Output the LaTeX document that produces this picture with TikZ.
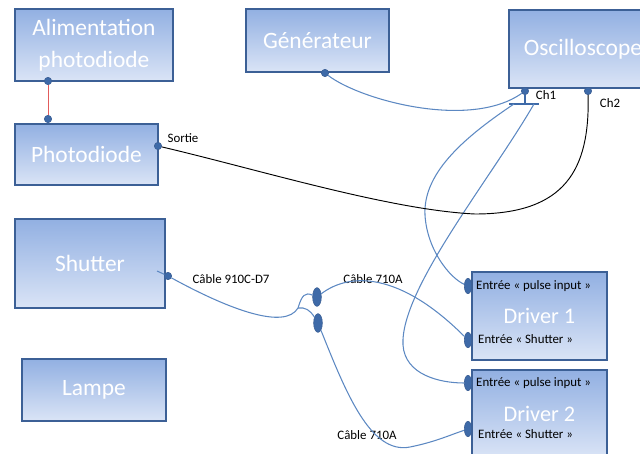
\documentclass[tikz,border=0pt]{standalone}
\usepackage{fontspec}
\setmainfont{Carlito}
\usetikzlibrary{positioning,shapes.geometric}
\definecolor{boxtop}{RGB}{146,176,226}
\definecolor{boxbot}{RGB}{218,228,246}
\definecolor{boxline}{RGB}{60,96,150}
\definecolor{portblue}{RGB}{62,106,168}
\definecolor{cableblue}{RGB}{92,136,194}
\definecolor{feedred}{RGB}{226,92,92}

\begin{document}
\begin{tikzpicture}[x=0.03cm,y=-0.03cm,
  box/.style={draw=boxline,line width=1.6pt,top color=boxtop,bottom color=boxbot,text=white,align=center,anchor=north west,inner sep=0pt,font=\fontsize{20}{27}\selectfont},
  port/.style={circle,draw=boxline,fill=portblue,line width=0.5pt,inner sep=0pt,minimum size=0.22cm},
  plug/.style={ellipse,draw=boxline,fill=portblue,line width=0.5pt,inner sep=0pt,minimum width=0.22cm,minimum height=0.46cm},
  lbl/.style={font=\fontsize{11}{13}\selectfont,inner sep=0pt},
  cable/.style={draw=cableblue,line width=0.9pt},
  sig/.style={draw=black,line width=0.8pt}
]
\useasboundingbox (0,0) rectangle (640,454);
\clip (0,0) rectangle (640,454);
% left column
\node[box,minimum width=4.74cm,minimum height=2.16cm] (alim) at (14,8) {Alimentation\\photodiode};
\node[box,minimum width=4.29cm,minimum height=1.83cm] (photo) at (14,123) {Photodiode};
\node[box,minimum width=4.5cm,minimum height=2.67cm] (shutter) at (14,218) {Shutter};
\node[box,minimum width=4.32cm,minimum height=1.86cm] (lampe) at (21,358) {Lampe};
% top row
\node[box,minimum width=4.29cm,minimum height=1.89cm] (gen) at (245,8) {Générateur};
\node[box,minimum width=4.44cm,minimum height=2.34cm] (osc) at (508,9) {Oscilloscope};
% drivers
\node[box,minimum width=4.05cm,minimum height=2.64cm,font=\fontsize{19}{22}\selectfont] (d1) at (471,271) {Driver 1};
\node[box,below=0.24cm of d1.south west,anchor=north west,minimum width=4.05cm,minimum height=2.64cm,font=\fontsize{19}{22}\selectfont] (d2) {Driver 2};
\node[lbl,anchor=west] (d1intxt) at (476,286) {Entrée « pulse input »};
\node[lbl,anchor=west] (d1shtxt) at (478,339) {Entrée « Shutter »};
\node[lbl,anchor=west] (d2intxt) at (476,383) {Entrée « pulse input »};
\node[lbl,anchor=west] (d2shtxt) at (478,434) {Entrée « Shutter »};
% ports
\node[port] (alimp) at (48,81) {};
\node[port] (photop) at (48,119) {};
\node[port] (sortie) at (158,146) {};
\node[port] (genp) at (325,73) {};
\node[port] (ch1) at (525,91) {};
\node[port] (ch2) at (588,91) {};
\node[port] (shp) at (168,276) {};
\node[plug] (d1p) at (468,286) {};
\node[plug] (d1s) at (468,340) {};
\node[plug] (d2p) at (468,383) {};
\node[plug] (d2s) at (468,429) {};
\node[plug,minimum width=0.26cm,minimum height=0.56cm] (sp1) at (317,297) {};
\node[plug,minimum width=0.26cm,minimum height=0.56cm] (sp2) at (318,323) {};
\coordinate (tbar) at (525,104);
\coordinate (tbarL) at (509,104);
\coordinate (tbarR) at (539,104);
\coordinate (tl) at (514,104);
\coordinate (tr) at (534,104);
\coordinate (split) at (298,308);
\coordinate (shin) at (157,271);
% port labels
\node[lbl] (sortielbl) at (183,138) {Sortie};
\node[lbl] (ch1lbl) at (546,95) {Ch1};
\node[lbl] (ch2lbl) at (610,103) {Ch2};
\node[lbl] (c910) at (231,279) {Câble 910C-D7};
\node[lbl] (c710a) at (373,279) {Câble 710A};
\node[lbl] (c710b) at (367,435) {Câble 710A};
% connections
\draw[feedred,line width=0.7pt] (alimp) -- (photop);
\draw[cable] (genp) .. controls (360,100) and (470,130) .. (ch1);
\draw[portblue,line width=1.5pt] (ch1) -- (tbar);
\draw[portblue,line width=1.5pt] (tbarL) -- (tbarR);
\draw[cable] (tl) .. controls (460,140) and (423,175) .. (425,215) .. controls (427,250) and (450,278) .. (d1p);
\draw[cable] (tr) .. controls (490,180) and (400,290) .. (403,345) .. controls (405,375) and (440,383) .. (d2p);
\draw[sig] (sortie) .. controls (260,170) and (390,210) .. (475,214) .. controls (565,214) and (590,170) .. (ch2);
\draw[cable] (shin) -- (shp);
\draw[cable] (shp) .. controls (230,310) and (285,330) .. (split);
\draw[cable] (split) .. controls (302,295) and (305,292) .. (sp1);
\draw[cable] (split) .. controls (305,307) and (310,310) .. (sp2);
\draw[cable] (sp1) .. controls (350,272) and (400,272) .. (d1s);
\draw[cable] (sp2) .. controls (345,390) and (370,455) .. (410,447) .. controls (435,442) and (450,435) .. (d2s);
\end{tikzpicture}
\end{document}
